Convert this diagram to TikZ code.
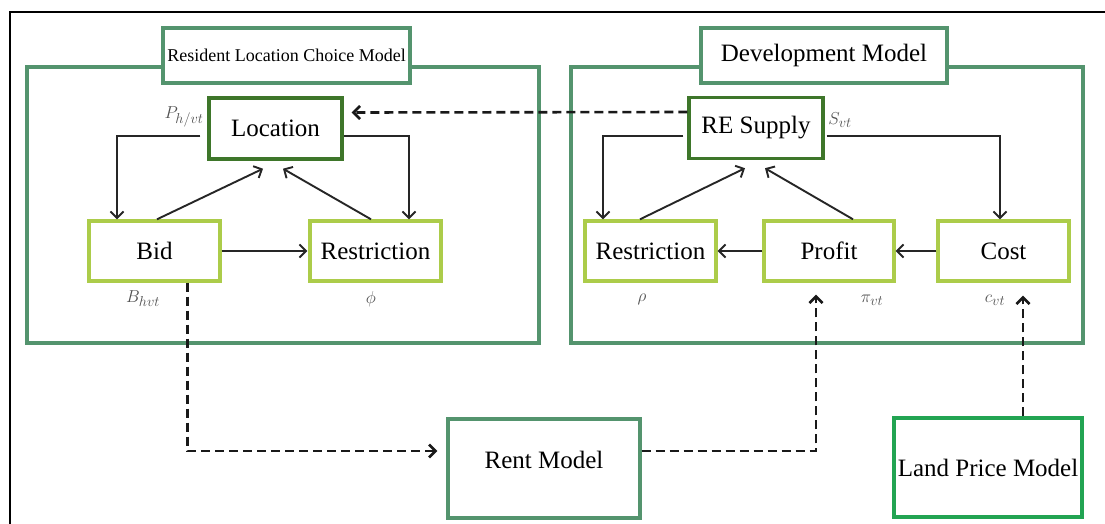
\documentclass[tikz,border=0pt]{standalone}
\usepackage{fontspec}
\setmainfont{Liberation Serif}
\usetikzlibrary{arrows.meta,calc}
\definecolor{outerg}{RGB}{84,148,110}
\definecolor{locg}{RGB}{62,118,42}
\definecolor{yelg}{RGB}{172,204,74}
\definecolor{lpg}{RGB}{34,164,82}
\definecolor{lblgray}{RGB}{80,80,80}
\begin{document}
\begin{tikzpicture}[x=1pt,y=-1pt,
  every node/.style={inner sep=0pt},
  bigfont/.style={font=\fontsize{25}{28}\selectfont},
  outerbox/.style={draw=outerg, line width=3.2pt},
  titlebox/.style={draw=outerg, line width=3.2pt, fill=white},
  topbox/.style={draw=locg, line width=3.4pt, fill=white, bigfont, minimum width=133pt, minimum height=61pt},
  subbox/.style={draw=yelg, line width=3.4pt, fill=white, bigfont, minimum width=131pt, minimum height=60pt},
  extbox/.style={line width=3.2pt, fill=white, bigfont, minimum height=99pt},
  conn/.style={black!85, line width=1.9pt, -{Straight Barb[length=6.5pt,width=13pt]}},
  dconn/.style={black!90, line width=2.6pt, dash pattern=on 9pt off 5pt, -{Straight Barb[length=6.5pt,width=13pt]}},
  lbl/.style={text=lblgray, font=\fontsize{19}{21}\selectfont}
]
\useasboundingbox (0,0) rectangle (1105,523);
\fill[white] (0,0) rectangle (1105,523);
\draw[line width=2.7pt] (10,524) -- (10,12) -- (1106,12);

% model frames
\node[outerbox, minimum width=512pt, minimum height=276pt] (lbox) at (283,205) {};
\node[outerbox, minimum width=512pt, minimum height=276pt] (rbox) at (827,205) {};
\node[titlebox, minimum width=247pt, minimum height=55pt, font=\fontsize{18}{20}\selectfont] (ltitle) at (286.5,55.5) {Resident Location Choice Model};
\node[titlebox, minimum width=246pt, minimum height=55pt, bigfont] (rtitle) at (824,55.5) {Development Model};

% inner boxes
\node[topbox] (loc) at (275.5,128.5) {Location};
\node[topbox, minimum width=134pt] (resup) at (756,128) {RE Supply};
\node[subbox] (bid) at (154.5,251) {Bid};
\node[subbox] (resL) at (375.5,251) {Restriction};
\node[subbox] (resR) at (650.5,251) {Restriction};
\node[subbox, minimum width=130pt] (profit) at (829,251) {Profit};
\node[subbox] (cost) at (1003.5,251) {Cost};

% external models
\node[extbox, draw=outerg, minimum width=192pt, text depth=18pt] (rent) at (544,468.5) {Rent Model};
\node[extbox, draw=lpg, minimum width=188pt] (land) at (988,467.5) {Land Price Model};

% labels
\node[lbl] (lp) at (184,117) {$P_{h/vt}$};
\node[lbl] (ls) at (840,120) {$S_{vt}$};
\node[lbl] (lb) at (143,299) {$B_{hvt}$};
\node[lbl] (lphi) at (371,299) {$\phi$};
\node[lbl] (lrho) at (642,299) {$\rho$};
\node[lbl] (lpi) at (872,300) {$\pi_{vt}$};
\node[lbl] (lc) at (995,300) {$c_{vt}$};

% left model connectors
\draw[conn] ($(loc.west)+(-7,7.5)$) -| ($(bid.north)+(-37.5,0)$);
\draw[conn] ($(loc.east)+(0,7.5)$) -| ($(resL.north)+(33.5,0)$);
\draw[conn] ($(bid.north)+(2.5,0)$) -- ($(loc.south)+(-12.5,8)$);
\draw[conn] ($(resL.north)+(-4.5,0)$) -- ($(loc.south)+(7.5,8)$);
\draw[conn, shorten >=1pt] (bid.east) -- (resL.west);

% right model connectors
\draw[conn] ($(resup.west)+(-4,8)$) -| ($(resR.north)+(-47.5,0)$);
\draw[conn] ($(resup.east)+(2,8)$) -| ($(cost.north)+(-3.5,0)$);
\draw[conn] ($(resR.north)+(-10.5,0)$) -- ($(resup.south)+(-11,8)$);
\draw[conn] ($(profit.north)+(24,0)$) -- ($(resup.south)+(9,8)$);
\draw[conn] (profit.west) -- (resR.east);
\draw[conn] (cost.west) -- (profit.east);

% dashed links
\draw[dconn] ($(resup.west)+(0,-16)$) -- ($(loc.east)+(8,-16)$);
\draw[dconn] ($(bid.south)+(33,0)$) |- ($(rent.west)+(-9,-17.5)$);
\draw[dconn] ($(rent.east)+(0,-17.5)$) -| ($(profit.south)+(-13,12)$);
\draw[dconn] ($(land.north)+(35,0)$) -- ($(cost.south)+(19.5,13)$);
\end{tikzpicture}
\end{document}
